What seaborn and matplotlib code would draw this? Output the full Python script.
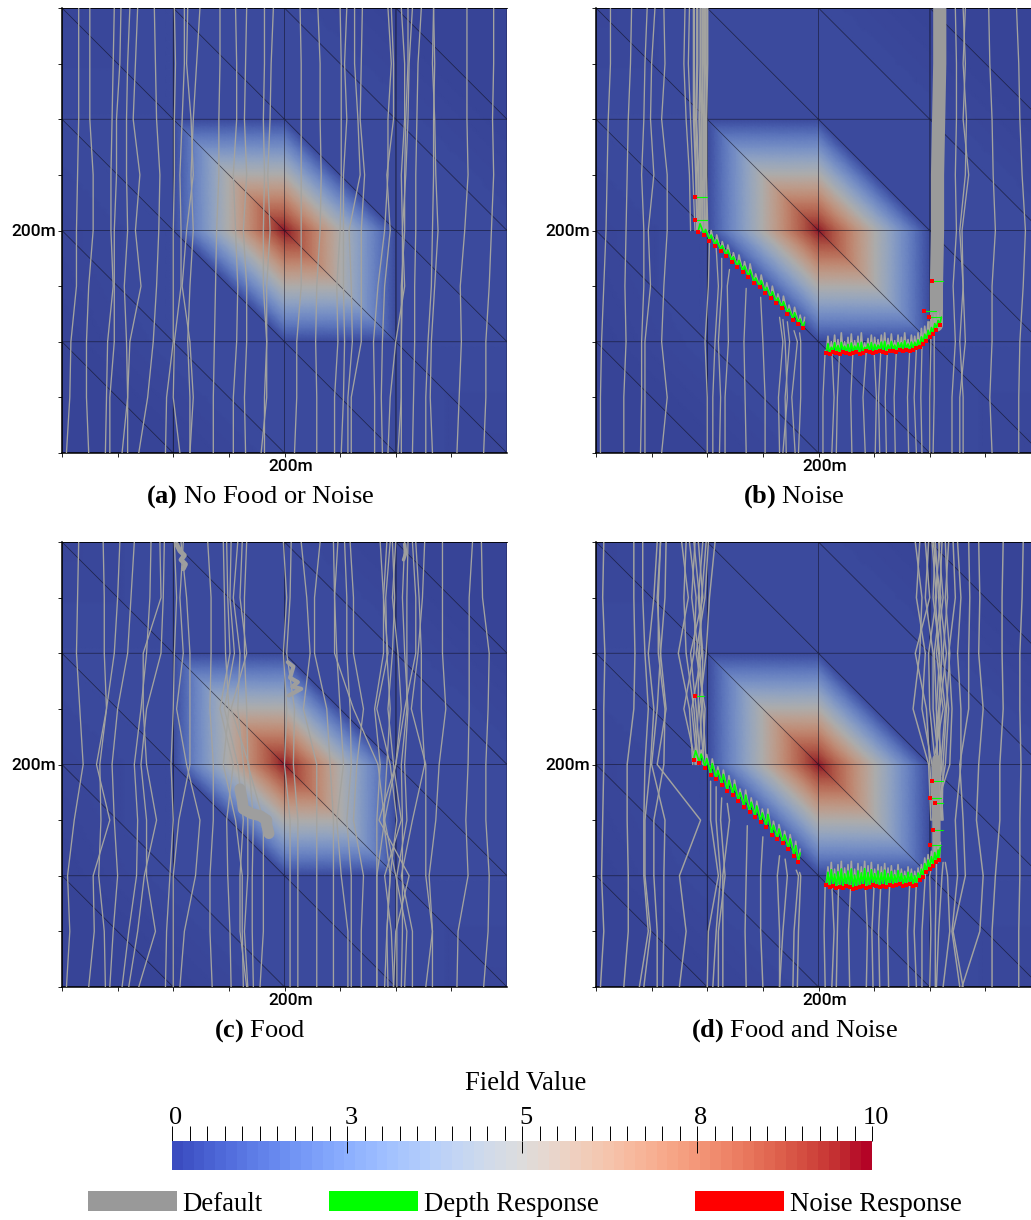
import numpy as np
import pandas as pd
import matplotlib
matplotlib.use("Agg")
import matplotlib.pyplot as plt
import matplotlib.tri as mtri
from matplotlib.colors import ListedColormap
from matplotlib.patches import Patch
from matplotlib.transforms import ScaledTranslation
import seaborn as sns

sns.set_theme(style="white")
plt.rcParams["font.family"] = ["Liberation Serif", "DejaVu Serif"]
plt.rcParams["mathtext.fontset"] = "custom"
plt.rcParams["mathtext.rm"] = "Liberation Serif"
plt.rcParams["mathtext.bf"] = "Liberation Serif:bold"

W, H = 1031, 1220
GRAY = "#a3a3a0"

# mesh nodes (metres) and field value at every node, first row is y = 0
NODES = [0, 100, 200, 300, 400]
FIELD = [
    [0.0, 0.0, 0.2, 0.2, 0.1],
    [0.0, 0.2, 0.2, 0.2, 0.2],
    [0.1, 0.2, 10.0, 0.2, 0.2],
    [0.2, 0.2, 0.2, 0.2, 0.0],
    [0.1, 0.2, 0.2, 0.0, 0.0],
]

# depth stations of the tracks, x of every track at these depths
STATIONS = [400, 350, 300, 250, 200, 150, 100, 50, 0]
NA = np.nan

TRACKS_A = [
    [15, 15, 15, 14, 13, 13, 8, 7, 4],
    [25, 25, 25, 28, 28, 24, 22, 22, 24],
    [47, 46, 45, 44, 44, 46, 41, 40, 39],
    [53, 52, 49, 49, 47, 47, 47, 43, 43],
    [61, 59, 58, 58, 59, 56, 58, 59, 54],
    [68, 66, 64, 70, 66, 71, 61, 59, 59],
    [83, 84, 85, 88, 87, 85, 82, 77, 69],
    [101, 102, 101, 101, 100, 100, 100, 94, 93],
    [110, 110, 108, 106, 107, 107, 101, 100, 106],
    [113, 112, 116, 118, 112, 108, 115, 118, 115],
    [124, 121, 118, 116, 118, 115, 113, 115, 115],
    [142, 142, 141, 141, 139, 138, 137, 136, 136],
    [156, 157, 157, 154, 156, 158, 157, 154, 154],
    [166, 165, 164, 166, 163, 166, 166, 164, 165],
    [182, 182, 181, 182, 181, 181, 184, 184, 179],
    [190, 188, 187, 185, 187, 184, 184, 182, 182],
    [214, 215, 215, 215, 215, 215, 211, 211, 209],
    [230, 232, 232, 233, 232, 229, 228, 229, 229],
    [250, 251, 251, 251, 250, 247, 248, 245, 245],
    [256, 254, 256, 253, 253, 253, 254, 253, 251],
    [263, 263, 266, 268, 258, 260, 261, 257, 257],
    [270, 269, 268, 272, 269, 269, 269, 260, 260],
    [293, 296, 293, 293, 290, 284, 280, 281, 281],
    [296, 298, 298, 292, 295, 290, 288, 287, 288],
    [305, 308, 308, 305, 306, 306, 305, 305, 302],
    [311, 311, 309, 308, 308, 305, 305, 305, 305],
    [315, 312, 311, 309, 306, 308, 300, 295, 293],
    [323, 320, 319, 318, 318, 317, 317, 316, 315],
    [334, 335, 334, 334, 333, 332, 329, 327, 327],
    [334, 333, 335, 336, 338, 335, 332, 331, 333],
    [364, 364, 364, 365, 362, 358, 359, 357, 355],
    [388, 388, 387, 388, 386, 384, 381, 381, 379],
]

TRACKS_B = [
    [13, 13, 11, 10, 9, 7, 5, 4, 4],
    [32, 31, 29, 28, 27, 26, 27, 25, 25],
    [46, 44, 43, 41, 43, 43, 41, 41, 40],
    [53, 50, 49, 52, 47, 49, 44, 44, 44],
    [61, 62, 59, 64, 64, 61, 59, 64, 59],
    [80, 79, 81, 84, 85, NA, NA, NA, NA],
    [84, 83, 85, 87, 89, NA, NA, NA, NA],
    [323, 324, 324, 323, 324, 321, 323, 320, 320],
    [330, 332, 330, 335, 329, 330, 332, 327, 327],
    [332, 330, 333, 332, 327, 330, 327, 330, 330],
    [353, 354, 356, 357, 359, 356, 356, 354, 356],
    [378, 380, 381, 383, 386, 384, 381, 380, 380],
]
# close tracks of the left bundle in panel b
BUNDLE_B = [
    [88, 88, 88, 90, 91, NA, NA, NA, NA],
    [91, 91, 90, 92, 93, NA, NA, NA, NA],
    [94, 94, 93, 94, 94, NA, NA, NA, NA],
    [96, 96, 95, 95, 96, NA, NA, NA, NA],
    [98, 98, 97, 97, 98, NA, NA, NA, NA],
    [100, 100, 99, 99, 100, NA, NA, NA, NA],
]
# start depth and x for tracks that leave the field edge
BELOW_B = [
    (190, [102, 101, 98, 100, 100]),
    (185, [108, 110, 107, 105, 105]),
    (175, [113, 113, 110, 112, 111]),
    (165, [120, 118, 119, 116, 116]),
    (148, [135, 133, 134, 135]),
    (140, [148, 150, 152, 152]),
    (122, [165, 168, 164, 165]),
    (120, [168, 170, 172, 168]),
    (118, [172, 174, 170, 171]),
    (110, [178, 181, 176, 179]),
    (108, [183, 184, 184, 182]),
    (92, [206, 204, 204]),
    (92, [212, 214, 212]),
    (92, [219, 217, 216]),
    (92, [231, 229, 230]),
    (92, [243, 240, 242]),
    (92, [250, 252, 251]),
    (92, [256, 254, 255]),
    (92, [262, 260, 261]),
    (92, [270, 268, 269]),
    (93, [282, 280, 281]),
    (94, [288, 286, 288]),
    (95, [293, 292, 293]),
    (118, [300, 301, 300, 300]),
    (118, [304, 304, 304, 303]),
]
# solid bundle in panel b: y, x of centre line
BAND_B_Y = [400, 350, 300, 250, 200, 150, 115]
BAND_B_X = [309, 309, 308, 307, 307, 306, 306]

TRACKS_C = [
    [15, 14, 13, 16, 19, 11, 5, 7, 4],
    [37, 38, 38, 40, 31, 43, 28, 29, 24],
    [52, 50, 47, 40, 34, 35, 33, 38, 39],
    [65, 62, 59, 50, 45, 47, 50, 46, 43],
    [80, 79, 76, 71, 65, 68, 67, 60, 54],
    [88, 89, 73, 73, 76, 85, 74, 68, 60],
    [92, 91, 89, 76, 71, 76, 76, 84, 69],
    [101, 103, 101, 100, 98, 100, 97, 94, 93],
    [107, 112, 115, 115, 115, 105, 100, 100, 100],
    [109, 106, 109, 103, 112, 124, 120, 110, 106],
    [131, 134, 134, 133, 136, 136, 133, 133, 135],
    [148, 149, 151, 142, 154, 148, 149, 151, 152],
    [152, 151, 155, 146, 158, 163, 160, 160, 166],
    [158, 154, 160, 158, 163, 167, 167, 164, 167],
    [166, 164, 164, 166, 167, 181, 181, 181, 178],
    [145, 146, 147, 150, 145, 156, 162, 162, 163],
    [162, 160, 166, 152, 168, 172, 171, 171, 172],
    [199, 202, 199, 202, 200, 205, 205, 205, 205],
    [206, 205, 202, 209, 208, 212, 212, 212, 212],
    [215, 220, 223, 217, 229, 229, 229, 229, 229],
    [232, 227, 227, 238, 241, 244, 244, 244, 244],
    [244, 245, 245, 262, 284, 290, 283, 283, 283],
    [248, 245, 247, 250, 253, 247, 251, 257, 257],
    [254, 256, 256, 259, 260, 256, 260, 260, 260],
    [259, 262, 262, 271, 265, 262, 271, 269, 269],
    [286, 289, 289, 281, 286, 283, 283, 283, 283],
    [292, 289, 293, 283, 295, 301, 295, 292, 290],
    [295, 291, 292, 295, 292, 289, 295, 292, 293],
    [297, 299, 297, 293, 298, 305, 290, 296, 298],
    [300, 297, 302, 305, 300, 285, 312, 300, 298],
    [308, 306, 308, 311, 308, 310, 301, 301, 301],
    [311, 310, 310, 310, 305, 306, 306, 306, 305],
    [315, 318, 318, 308, 300, 290, 300, 310, 308],
    [318, 321, 323, 323, 326, 315, 305, 315, 315],
    [326, 324, 320, 314, 327, 327, 327, 333, 327],
    [342, 342, 342, 345, 339, 336, 330, 333, 333],
    [369, 366, 366, 366, 365, 363, 365, 356, 355],
    [377, 378, 384, 383, 381, 381, 384, 383, 379],
]
# places where the food tracks pile up in panel c: x, y, width
BLOBS_C = [
    ([103, 106, 110, 107, 111, 109], [398, 392, 388, 384, 380, 376], 3.5),
    ([203, 208, 205, 212, 207, 215, 204], [292, 288, 278, 274, 270, 268, 262], 3.0),
    ([160, 162, 163, 170, 178, 184, 184, 186], [178, 168, 160, 156, 154, 150, 146, 138], 8.0),
    ([308, 309, 307], [398, 390, 384], 2.5),
]

TRACKS_D = [
    [7, 6, 8, 7, 7, 6, 5, 7, 4],
    [34, 34, 35, 34, 28, 28, 29, 29, 25],
    [42, 42, 44, 47, 44, 43, 43, 47, 39],
    [55, 52, 47, 52, 49, 44, 44, 49, 43],
    [58, 56, 56, 62, 61, 52, 52, 55, 55],
    [58, 55, 58, 55, 50, 62, 61, 61, 60],
    [63, 62, 58, 63, 55, 94, 75, 81, 75],
    [77, 83, 74, 84, 87, NA, NA, NA, NA],
    [81, 79, 81, 88, 92, NA, NA, NA, NA],
    [84, 90, 88, 79, 90, NA, NA, NA, NA],
    [89, 86, 92, 92, 89, NA, NA, NA, NA],
    [92, 96, 85, 90, 94, NA, NA, NA, NA],
    [96, 92, 96, 95, 92, NA, NA, NA, NA],
    [101, 98, 90, 98, 96, NA, NA, NA, NA],
    [107, 102, 99, 93, 97, NA, NA, NA, NA],
    [88, 93, 95, 86, 91, NA, NA, NA, NA],
    [99, 95, 93, 96, 99, NA, NA, NA, NA],
    [287, 293, 291, 285, 299, 301, NA, NA, NA],
    [291, 288, 296, 293, 302, 305, NA, NA, NA],
    [296, 300, 287, 297, 300, 303, NA, NA, NA],
    [299, 296, 303, 303, 308, 310, NA, NA, NA],
    [302, 306, 299, 300, 305, 307, NA, NA, NA],
    [305, 303, 309, 306, 311, 305, NA, NA, NA],
    [308, 312, 306, 312, 303, 308, NA, NA, NA],
    [311, 309, 315, 309, 309, 312, NA, NA, NA],
    [314, 316, 312, 317, 314, 306, NA, NA, NA],
    [317, 314, 318, 315, 312, 311, NA, NA, NA],
    [321, 323, 317, 320, 318, 302, NA, NA, NA],
    [305, 308, 311, 308, 306, 309, NA, NA, NA],
    [309, 305, 308, 314, 310, 304, NA, NA, NA],
    [303, 310, 304, 306, 307, 311, NA, NA, NA],
    [325, 328, 325, 328, 328, 323, 325, 320, 327],
    [335, 336, 335, 335, 327, 330, 332, 321, 330],
    [344, 345, 344, 348, 344, 342, 348, 345, 329],
    [366, 365, 365, 366, 363, 363, 359, 356, 356],
    [384, 383, 381, 381, 382, 381, 381, 380, 380],
]
BELOW_D = [
    (185, [103, 103, 110, 101, 100]),
    (180, [108, 108, 112, 108, 105]),
    (170, [113, 112, 116, 110, 110]),
    (165, [118, 120, 114, 114, 114]),
    (145, [136, 135, 134, 135]),
    (135, [150, 148, 148, 150]),
    (118, [165, 163, 165, 165]),
    (115, [170, 172, 168, 165]),
    (105, [180, 182, 178, 177]),
    (103, [183, 184, 182, 181]),
    (92, [206, 205, 206]),
    (92, [212, 214, 212]),
    (92, [218, 217, 216]),
    (92, [229, 227, 228]),
    (92, [242, 244, 243]),
    (92, [250, 248, 249]),
    (92, [256, 254, 255]),
    (92, [264, 262, 263]),
    (93, [282, 280, 281]),
    (94, [288, 286, 288]),
    (112, [296, 296, 293, 293]),
    (112, [302, 300, 301, 300]),
    (112, [306, 306, 305, 305]),
    (112, [312, 311, 308, 306]),
    (112, [314, 316, 318, 312]),
]
BAND_D_Y = [205, 180, 150, 115]
BAND_D_X = [306, 305, 306, 306]

# response teeth along the field edge: x, lowest y, highest y
ZIG_B_X = [92, 97, 102, 107, 112, 117, 122, 127, 132, 137, 142, 147, 152, 157, 162, 167, 172, 177, 182, 186,
           207, 210, 213, 216, 219, 222, 225, 228, 231, 234, 237, 240, 243, 246, 249, 252, 255, 258, 261, 264,
           267, 270, 273, 276, 279, 282, 285, 288, 291, 294, 297, 300, 303, 306, 309]
ZIG_B_LOW = [199, 196, 191, 186, 182, 177, 172, 167, 163, 158, 153, 149, 144, 139, 135, 130, 125, 120, 116, 112,
             90, 89, 91, 90, 89, 91, 90, 89, 90, 91, 89, 90, 92, 91, 90, 91, 92, 91, 90, 92,
             92, 91, 93, 92, 93, 92, 93, 94, 95, 98, 101, 104, 107, 111, 115]
ZIG_B_HIGH = [212, 205, 200, 196, 190, 187, 180, 178, 172, 170, 161, 160, 153, 150, 143, 141, 133, 131, 124, 122,
              105, 100, 106, 102, 108, 100, 104, 107, 101, 105, 108, 99, 103, 106, 104, 102, 106, 108, 103, 107,
              101, 106, 104, 108, 102, 106, 105, 108, 112, 114, 118, 120, 124, 126, 128]
# short green dashes with a red end beside the bundles: x from, x to, y
DASH_B_X0 = [89, 89, 302, 295, 299]
DASH_B_X1 = [100, 100, 312, 306, 310]
DASH_B_Y = [230, 209, 155, 128, 122]

ZIG_D_X = [88, 93, 98, 103, 108, 113, 118, 123, 128, 133, 138, 143, 148, 153, 158, 163, 168, 173, 178, 182,
           207, 210, 213, 216, 219, 222, 225, 228, 231, 234, 237, 240, 243, 246, 249, 252, 255, 258, 261, 264,
           267, 270, 273, 276, 279, 282, 285, 288, 291, 294, 297, 300, 303, 306, 308]
ZIG_D_LOW = [204, 201, 197, 191, 187, 182, 176, 173, 167, 162, 157, 153, 148, 144, 137, 133, 129, 124, 118, 112,
             92, 90, 91, 89, 90, 89, 91, 90, 88, 89, 90, 91, 89, 90, 92, 91, 90, 91, 90, 92,
             91, 92, 93, 91, 92, 93, 91, 92, 96, 99, 103, 106, 109, 112, 114]
ZIG_D_HIGH = [216, 213, 209, 205, 198, 195, 190, 186, 178, 177, 170, 167, 160, 160, 149, 146, 140, 137, 131, 124,
              108, 112, 106, 110, 113, 107, 110, 113, 106, 111, 108, 113, 109, 112, 106, 110, 108, 111, 107, 109,
              105, 110, 106, 104, 108, 106, 104, 107, 110, 116, 119, 122, 126, 128, 130]
DASH_D_X0 = [89, 302, 300, 305, 303, 300]
DASH_D_X1 = [97, 312, 310, 312, 312, 310]
DASH_D_Y = [262, 185, 170, 165, 141, 128]

COLORBAR_TICKS = [0, 2.5, 5, 7.5, 10]
COLORBAR_LABELS = ["0", "3", "5", "8", "10"]
LEGEND_NAMES = ["Default", "Depth Response", "Noise Response"]
LEGEND_COLORS = ["#999999", "#00ff00", "#ff0000"]
LEGEND_LEFT = [88, 329, 695]


def draw_lines(ax, rows, lw=0.95, color=GRAY):
    frames = []
    for i, (xs, ys) in enumerate(rows):
        frames.append(pd.DataFrame({"track": i, "x": xs, "y": ys}))
    df = pd.concat(frames, ignore_index=True)
    sns.lineplot(data=df, x="x", y="y", units="track", estimator=None, sort=False,
                 color=color, linewidth=lw, ax=ax, legend=False, zorder=4)


def draw_tracks(ax, tracks, below=(), lw=0.95):
    rows = [(t, STATIONS) for t in tracks]
    for top, xs in below:
        rows.append((xs, [top] + [s for s in STATIONS if s < top]))
    draw_lines(ax, rows, lw=lw)


def draw_teeth(ax, xs, low, high, dash_x0, dash_x1, dash_y, green_part):
    xs, low, high = np.array(xs, float), np.array(low, float), np.array(high, float)
    # the two edge runs are drawn apart so no tooth bridges the gap
    cut = int(np.argmax(np.diff(xs) > 10)) + 1
    for part in (np.arange(cut), np.arange(cut, len(xs))):
        px = np.column_stack([xs[part], xs[part] + 1.5]).ravel()
        py = np.column_stack([low[part], high[part]]).ravel()
        draw_lines(ax, [(px, py)], lw=1.2, color="#a5a5a0")
        gy = np.column_stack([low[part] + 1, low[part] + green_part * (high[part] - low[part])]).ravel()
        draw_lines(ax, [(px, gy)], lw=1.2, color="#00ff00")
    sns.scatterplot(x=xs, y=low, marker="s", s=7, color="#ff0000", linewidth=0, ax=ax, zorder=6)
    for x0, x1, y in zip(dash_x0, dash_x1, dash_y):
        draw_lines(ax, [([x0, x1], [y, y])], lw=0.8, color="#00ff00")
    sns.scatterplot(x=dash_x0, y=dash_y, marker="s", s=5, color="#ff0000", linewidth=0, ax=ax, zorder=6)


palette = np.array(sns.color_palette("coolwarm", 256))
field_cmap = ListedColormap(palette * 0.72 + 0.05)

nx, ny = np.meshgrid(NODES, NODES)
# every square is split along the top-left to bottom-right diagonal
triangles = []
for i in range(4):
    for j in range(4):
        a, b, c, d = i * 5 + j, i * 5 + j + 1, (i + 1) * 5 + j, (i + 1) * 5 + j + 1
        triangles += [[a, b, c], [b, d, c]]
mesh = mtri.Triangulation(nx.ravel(), ny.ravel(), triangles)
values = np.array(FIELD).ravel()
fine_mesh, fine_values = mtri.UniformTriRefiner(mesh).refine_field(
    values, triinterpolator=mtri.LinearTriInterpolator(mesh, values), subdiv=5)

fig = plt.figure(figsize=(W / 100, H / 100), dpi=100, facecolor="white")


def panel(left, top, letter, name):
    ax = fig.add_axes([left / W, 1 - (top + 445) / H, 445 / W, 445 / H])
    ax.tripcolor(fine_mesh, fine_values, shading="gouraud", cmap=field_cmap, vmin=0, vmax=10, zorder=1)
    ax.triplot(mesh, color="#101020", lw=0.55, alpha=0.65, zorder=2)
    ax.vlines([NODES[1], NODES[3]], 0, 400, color="#101020", lw=0.5, alpha=0.4, zorder=2)
    ax.set_xlim(0, 400)
    ax.set_ylim(0, 400)
    ax.set_xlabel("")
    ax.set_ylabel("")
    ax.set_xticks(np.arange(0, 400, 50))
    ax.set_yticks(np.arange(0, 401, 50))
    ax.set_xticklabels(["200m" if v == 200 else "" for v in np.arange(0, 400, 50)],
                       family="Roboto", fontsize=12.5, weight="medium", color="black")
    ax.set_yticklabels(["200m" if v == 200 else "" for v in np.arange(0, 401, 50)],
                       family="Roboto", fontsize=12.5, weight="medium", color="black")
    ax.tick_params(bottom=True, left=True, length=3, width=0.6, color="black", pad=1.5)
    shift = ScaledTranslation(6 / 100, 0, fig.dpi_scale_trans)
    for t in ax.get_xticklabels():
        t.set_transform(t.get_transform() + shift)
    sns.despine(ax=ax, top=False, right=True)
    ax.spines["left"].set(color="black", linewidth=1.1)
    ax.spines["bottom"].set(color="black", linewidth=1.1)
    ax.spines["top"].set(color="black", linewidth=0.6)
    ax.text(0.445, -0.098, rf"$\mathbf{{({letter})}}$ {name}", transform=ax.transAxes, ha="center",
            va="center", fontsize=19, color="black", clip_on=False)
    return ax


ax_a = panel(62, 8, "a", "No Food or Noise")
draw_tracks(ax_a, TRACKS_A)

ax_b = panel(596, 8, "b", "Noise")
draw_tracks(ax_b, TRACKS_B, BELOW_B)
draw_tracks(ax_b, BUNDLE_B, lw=1.7)
draw_lines(ax_b, [(BAND_B_X, BAND_B_Y)], lw=9.5, color="#9a9a9a")
draw_teeth(ax_b, ZIG_B_X, ZIG_B_LOW, ZIG_B_HIGH, DASH_B_X0, DASH_B_X1, DASH_B_Y, 0.55)

ax_c = panel(62, 542, "c", "Food")
draw_tracks(ax_c, TRACKS_C)
for bx, by, blw in BLOBS_C:
    draw_lines(ax_c, [(bx, by)], lw=blw, color="#9e9e9e")

ax_d = panel(596, 542, "d", "Food and Noise")
draw_tracks(ax_d, TRACKS_D, BELOW_D, lw=1.05)
draw_lines(ax_d, [(BAND_D_X, BAND_D_Y)], lw=6, color="#9a9a9a")
draw_teeth(ax_d, ZIG_D_X, ZIG_D_LOW, ZIG_D_HIGH, DASH_D_X0, DASH_D_X1, DASH_D_Y, 0.7)

for a in (ax_a, ax_b, ax_c, ax_d):
    a.set_xlim(0, 400)
    a.set_ylim(0, 400)
    a.set_xlabel("")
    a.set_ylabel("")

# colour bar
cax = fig.add_axes([172 / W, 1 - 1170 / H, 700 / W, 29 / H])
scale = np.linspace(0, 10, 65).reshape(1, -1)
cax.pcolormesh(np.linspace(0, 10, 66), [0, 1], scale, cmap=ListedColormap(palette), vmin=0, vmax=10)
cax.set_ylim(0, 1)
cax.set_yticks([])
cax.xaxis.tick_top()
cax.set_xticks(COLORBAR_TICKS)
cax.set_xticklabels(COLORBAR_LABELS, fontsize=19, color="black")
cax.set_xticks(np.arange(0, 10.01, 0.25), minor=True)
cax.tick_params(axis="x", which="both", top=True, direction="out", length=10.5, width=0.7,
                color="black", pad=-1.5)
cax.vlines(COLORBAR_TICKS[1:-1], 0.58, 1, color="black", lw=0.7)
shift = ScaledTranslation(4 / 100, 0, fig.dpi_scale_trans)
for t in cax.get_xticklabels():
    t.set_transform(t.get_transform() + shift)
sns.despine(ax=cax, left=True, right=True, top=True, bottom=True)
fig.text(526 / W, 1 - 1084 / H, "Field Value", ha="center", va="center", fontsize=19.2, color="black")

for name, color, left in zip(LEGEND_NAMES, LEGEND_COLORS, LEGEND_LEFT):
    fig.legend(handles=[Patch(facecolor=color, edgecolor="none", label=name)], loc="center left",
               bbox_to_anchor=(left / W, 1 - 1204 / H), frameon=False, borderpad=0, borderaxespad=0,
               handlelength=3.31, handleheight=0.77, handletextpad=0.2, fontsize=19.4, labelcolor="black")

fig.savefig("out.png", dpi=100)
